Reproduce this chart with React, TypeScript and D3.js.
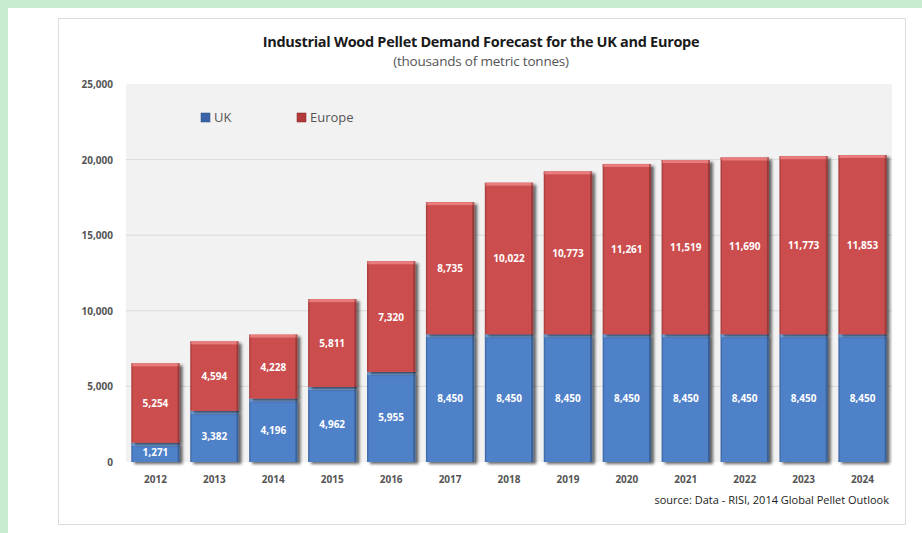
import React from "react";
import * as d3 from "d3";

const years = ["2012","2013","2014","2015","2016","2017","2018","2019","2020","2021","2022","2023","2024"];
const ukValues = [1271,3382,4196,4962,5955,8450,8450,8450,8450,8450,8450,8450,8450];
const europeValues = [5254,4594,4228,5811,7320,8735,10022,10773,11261,11519,11690,11773,11853];
const yTicks = [0,5000,10000,15000,20000,25000];
const seriesNames = ["UK","Europe"];
const seriesColors = ["#4f81c9","#cc4e4e"];

const W = 922, H = 533;
const FONT = "'Open Sans', 'Noto Sans', sans-serif";

export default function App() {
  const x = d3.scaleBand().domain(years).range([126, 892]).paddingInner(0.18).paddingOuter(0.09);
  const y = d3.scaleLinear().domain([0, 25000]).range([462, 84]);
  const fmt = d3.format(",");
  const bw = x.bandwidth();

  const stacks = years.map((yr, i) => {
    const uk = ukValues[i], eu = europeValues[i];
    return [
      { key: 0, y0: 0, y1: uk, v: uk, yr },
      { key: 1, y0: uk, y1: uk + eu, v: eu, yr },
    ];
  });

  return (
    <div style={{ position: "fixed", left: 0, top: 0, width: W, height: H }}>
      <svg width={W} height={H} style={{ display: "block", fontFamily: FONT }}>
        <defs>
          <filter id="sh" x="-20%" y="-20%" width="150%" height="150%">
            <feGaussianBlur in="SourceAlpha" stdDeviation="1.5" />
            <feOffset dx="2.5" dy="2" result="o" />
            <feComponentTransfer><feFuncA type="linear" slope="0.6" /></feComponentTransfer>
            <feMerge><feMergeNode /><feMergeNode in="SourceGraphic" /></feMerge>
          </filter>
        </defs>
        <rect x={0} y={0} width={W} height={H} fill="#c8ecd0" />
        <rect x={8} y={8} width={W - 8} height={H - 8} fill="#ffffff" />
        <rect x={58.5} y={18.5} width={847} height={506} fill="#ffffff" stroke="#dcdcdc" />
        <text x={481} y={47} textAnchor="middle" fontSize={14.5} fontWeight="bold" fill="#1a1a1a" style={{ letterSpacing: "-0.3px" }}>
          Industrial Wood Pellet Demand Forecast for the UK and Europe
        </text>
        <text x={481} y={66} textAnchor="middle" fontSize={13.5} fill="#555" style={{ letterSpacing: "-0.2px" }}>
          (thousands of metric tonnes)
        </text>
        <rect x={126} y={y(25000)} width={892 - 126} height={y(0) - y(25000)} fill="#f2f2f2" />
        {yTicks.map((t) => (
          <g key={t}>
            {t > 0 && t < 25000 && (
              <line x1={126} x2={892} y1={y(t)} y2={y(t)} stroke="#dadada" strokeWidth={1} />
            )}
            <text x={113} y={y(t) + 4} textAnchor="end" fontSize={10} fill="#555" fontWeight="bold">
              {fmt(t)}
            </text>
          </g>
        ))}
        <g>
          <rect x={201} y={113} width={9} height={9} fill="#3b64a8" stroke="#2a4a80" strokeWidth={0.5} />
          <text x={214} y={122} fontSize={13} fill="#555">{seriesNames[0]}</text>
          <rect x={297} y={113} width={9} height={9} fill="#b23a3a" stroke="#802020" strokeWidth={0.5} />
          <text x={310} y={122} fontSize={13} fill="#555">{seriesNames[1]}</text>
        </g>
        {stacks.map((s) => (
          <g key={s[0].yr}>
            {s.map((seg) => {
              const bx = x(seg.yr)!;
              const top = y(seg.y1), bot = y(seg.y0);
              const h = bot - top;
              return (
                <g key={seg.key}>
                  <rect x={bx} y={top} width={bw} height={h} fill={seriesColors[seg.key]} filter="url(#sh)" />
                  <rect x={bx} y={top} width={bw} height={3} fill={seg.key === 0 ? "#7fa9e0" : "#e87c7c"} />
                  <rect x={bx + bw - 2} y={top} width={2} height={h} fill="#000" opacity={0.25} />
                  <rect x={bx} y={top} width={1.5} height={h} fill="#000" opacity={0.15} />
                  <text x={bx + bw / 2} y={(top + bot) / 2 + 4} textAnchor="middle" fontSize={10} fontWeight="bold" fill="#ffffff">
                    {fmt(seg.v)}
                  </text>
                </g>
              );
            })}
          </g>
        ))}
        {years.map((yr) => (
          <text key={yr} x={x(yr)! + bw / 2} y={483} textAnchor="middle" fontSize={10} fontWeight="bold" fill="#555">
            {yr}
          </text>
        ))}
        <text x={889} y={504} textAnchor="end" fontSize={11} fill="#222">
          source: Data - RISI, 2014 Global Pellet Outlook
        </text>
      </svg>
    </div>
  );
}
